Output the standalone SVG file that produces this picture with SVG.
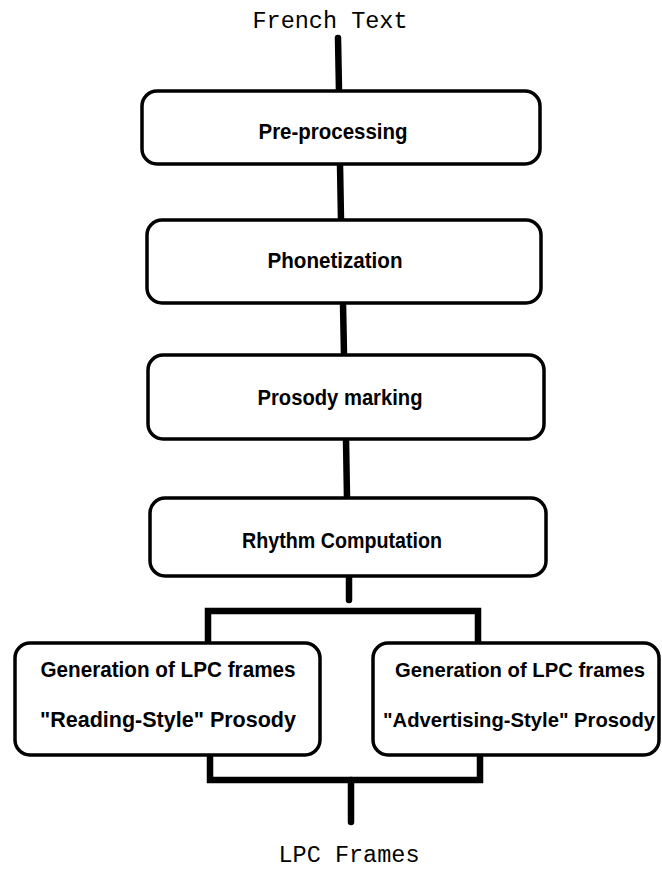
<svg xmlns="http://www.w3.org/2000/svg" width="662" height="869" viewBox="0 0 662 869">
<style>
.box{fill:#fff;stroke:#000;stroke-width:3.5}
.lbl{font-family:"Liberation Sans",Arial,sans-serif;font-weight:bold;font-size:22px;fill:#000;text-anchor:middle}
.sm{font-size:20.5px}
.mono{font-family:"Liberation Mono","Courier New",monospace;font-size:23.5px;fill:#000;text-anchor:middle}
.con{fill:none;stroke:#000;stroke-width:6.5;stroke-linecap:round;stroke-linejoin:miter}
</style>
<rect width="662" height="869" fill="#fff"/>
<g id="connectors">
<line class="con" x1="338" y1="38" x2="339" y2="91"/>
<line class="con" x1="340" y1="164" x2="341" y2="220"/>
<line class="con" x1="343" y1="303" x2="344" y2="355"/>
<line class="con" x1="346" y1="439" x2="347" y2="498"/>
<line class="con" x1="349" y1="576" x2="349" y2="600"/>
<path class="con" style="stroke-linecap:butt" d="M208,645 V611 H478 V645"/>
<path class="con" style="stroke-linecap:butt" d="M210,755 V780 H480 V755"/>
<line class="con" x1="351" y1="780" x2="351" y2="822"/>
</g>
<g id="input"><text class="mono" x="330" y="28">French Text</text></g>
<g id="preprocessing"><rect class="box" x="142" y="91" width="398" height="73" rx="15"/><text class="lbl" x="333" y="139" textLength="149" lengthAdjust="spacingAndGlyphs">Pre-processing</text></g>
<g id="phonetization"><rect class="box" x="147" y="220" width="394" height="83" rx="15"/><text class="lbl" x="335" y="268" textLength="135" lengthAdjust="spacingAndGlyphs">Phonetization</text></g>
<g id="prosody"><rect class="box" x="148" y="355" width="396" height="84" rx="15"/><text class="lbl" x="340" y="405" textLength="165" lengthAdjust="spacingAndGlyphs">Prosody marking</text></g>
<g id="rhythm"><rect class="box" x="150" y="498" width="396" height="78" rx="15"/><text class="lbl" x="342" y="548" textLength="200" lengthAdjust="spacingAndGlyphs">Rhythm Computation</text></g>
<g id="reading"><rect class="box" x="15" y="643" width="305" height="112" rx="15"/><text class="lbl" x="168" y="677" textLength="255" lengthAdjust="spacingAndGlyphs">Generation of LPC frames</text><text class="lbl" x="168" y="727" textLength="256" lengthAdjust="spacingAndGlyphs">"Reading-Style" Prosody</text></g>
<g id="advertising"><rect class="box" x="373" y="643" width="286" height="112" rx="15"/><text class="lbl sm" x="520" y="677" textLength="250" lengthAdjust="spacingAndGlyphs">Generation of LPC frames</text><text class="lbl sm" x="519" y="727" textLength="272" lengthAdjust="spacingAndGlyphs">"Advertising-Style" Prosody</text></g>
<g id="output"><text class="mono" x="349" y="862">LPC Frames</text></g>
</svg>
